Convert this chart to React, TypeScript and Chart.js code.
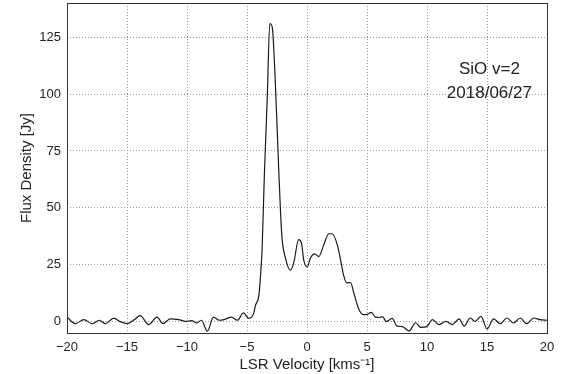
import React, { useEffect, useRef } from "react";
import { Chart, registerables } from "chart.js";

Chart.register(...registerables);

const velocity = [
  -20.0, -19.3, -18.6, -17.9, -17.3, -16.8, -16.1, -15.6, -15.0, -14.4, -13.9, -13.2, -12.5, -12.0,
  -11.4, -10.7, -10.1, -9.6, -9.2, -8.8, -8.3, -7.8, -7.3, -6.9, -6.3, -5.8, -5.3, -4.85, -4.45,
  -4.3, -4.0, -3.85, -3.74, -3.55, -3.32, -3.1, -2.9, -2.63, -2.35, -2.1, -1.8, -1.37, -1.1, -0.7,
  -0.46, -0.27, 0.02, 0.29, 0.63, 0.99, 1.4, 1.82, 2.1, 2.52, 2.8, 3.07, 3.3, 3.63, 3.9, 4.33,
  4.69, 5.03, 5.36, 5.7, 6.05, 6.3, 6.6, 7.1, 7.5, 7.95, 8.5, 9.06, 9.48, 9.98, 10.45, 11.0,
  11.57, 12.12, 12.68, 13.1, 13.6, 14.0, 14.5, 15.0, 15.55, 16.1, 16.66, 17.2, 17.77, 18.3, 18.9,
  19.4, 20.0,
];
const flux = [
  2.0, -0.9, 0.9, -0.9, 0.6, -0.9, 1.5, 0.1, -0.9, 0.8, 2.6, -1.3, 2.0, -0.9,
  1.2, 0.9, 0.1, 0.4, -0.6, 0.6, -4.2, 2.0, 0.6, 0.9, 2.0, 0.6, 3.8, 1.4, 3.5,
  7, 12, 22, 32, 65, 97, 131, 129.5, 104, 66, 38, 28, 22.6, 26, 36,
  34.5, 27, 24, 28, 29.8, 28.6, 33.8, 38.6, 38.6, 33.8, 27, 20, 17, 17.2, 12.6, 5.3,
  3.1, 3.2, 4.1, 2.0, 1.8, 2.2, 0, 1.4, -2.0, -2.2, -4.1, -0.5, -2.5, -2.2, 0.9, -1.3,
  0.1, -1.3, 1.2, -2.0, 1.6, 0.1, 2.3, -3.2, 1.2, -0.9, 1.6, -0.6, 1.6, -0.9, 1.6,
  0.9, 0.6,
];
const xTicks = [-20, -15, -10, -5, 0, 5, 10, 15, 20];
const yTicks = [0, 25, 50, 75, 100, 125];
const annotationLines = ["SiO v=2", "2018/06/27"];
const xTitle = "LSR Velocity [kms\u207B\u00B9]";
const yTitle = "Flux Density [Jy]";

const FONT = "'Liberation Sans', Arial, sans-serif";

export default function App() {
  const ref = useRef<HTMLCanvasElement | null>(null);
  useEffect(() => {
    if (!ref.current) return;
    const framePlugin = {
      id: "frame",
      afterDraw(chart: any) {
        const { ctx, chartArea } = chart;
        ctx.save();
        ctx.strokeStyle = "#333";
        ctx.lineWidth = 1;
        ctx.strokeRect(chartArea.left + 0.5, chartArea.top + 0.5, chartArea.right - chartArea.left, chartArea.bottom - chartArea.top);
        ctx.fillStyle = "#222";
        ctx.font = `17px ${FONT}`;
        ctx.textAlign = "center";
        ctx.textBaseline = "middle";
        const xs = chart.scales.x;
        const cx = xs.getPixelForValue(15.2);
        ctx.fillText(annotationLines[0], cx, 69);
        ctx.fillText(annotationLines[1], cx, 93);
        ctx.restore();
      },
    };
    const chart = new Chart(ref.current, {
      type: "line",
      data: {
        datasets: [
          {
            data: velocity.map((v, i) => ({ x: v, y: flux[i] })),
            borderColor: "#1a1a1a",
            borderWidth: 1.2,
            pointRadius: 0,
            tension: 0.3,
            cubicInterpolationMode: "monotone",
            fill: false,
          },
        ],
      },
      options: {
        animation: false,
        responsive: false,
        layout: { padding: { top: 3, right: 20, left: 0, bottom: 0 } },
        plugins: { legend: { display: false }, tooltip: { enabled: false } },
        scales: {
          x: {
            type: "linear",
            min: -20,
            max: 20,
            afterBuildTicks: (s: any) => {
              s.ticks = xTicks.map((v) => ({ value: v }));
            },
            afterFit: (s: any) => {
              s.height = 41;
              s.paddingLeft = 0;
              s.paddingRight = 0;
            },
            ticks: {
              color: "#222",
              font: { family: FONT, size: 13 },
              padding: 7,
              maxRotation: 0,
              callback: (v: any) => String(v).replace("-", "\u2212"),
            },
            grid: { color: "#9a9a9a", drawTicks: false },
            border: { display: false, dash: [1, 2] },
            title: {
              display: true,
              text: xTitle,
              color: "#222",
              font: { family: FONT, size: 15 },
              padding: { top: 0, bottom: 0 },
            },
          },
          y: {
            type: "linear",
            min: -5,
            max: 140,
            afterBuildTicks: (s: any) => {
              s.ticks = yTicks.map((v) => ({ value: v }));
            },
            afterFit: (s: any) => {
              s.width = 67;
              s.paddingTop = 0;
              s.paddingBottom = 0;
            },
            ticks: {
              color: "#222",
              font: { family: FONT, size: 13 },
              padding: 6,
            },
            grid: { color: "#9a9a9a", drawTicks: false },
            border: { display: false, dash: [1, 2] },
            title: {
              display: true,
              text: yTitle,
              color: "#222",
              font: { family: FONT, size: 15 },
              padding: { top: 18, bottom: 0 },
            },
          },
        },
      },
      plugins: [framePlugin],
    });
    return () => chart.destroy();
  }, []);
  return (
    <div style={{ position: "fixed", left: 0, top: 0, width: 567, height: 374, background: "#fff" }}>
      <canvas ref={ref} width={567} height={374} style={{ width: 567, height: 374 }} />
    </div>
  );
}
